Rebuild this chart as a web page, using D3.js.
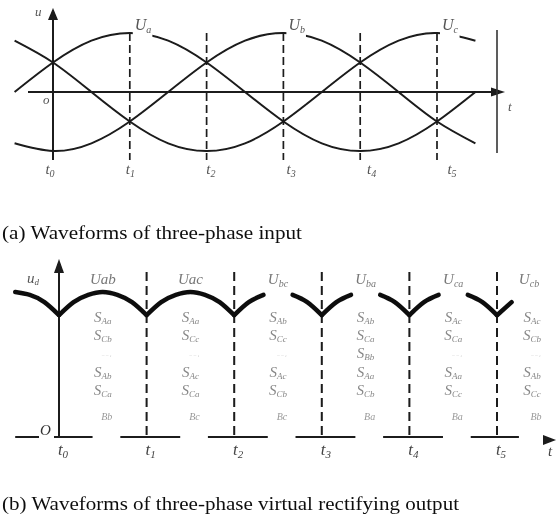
<!DOCTYPE html>
<html>
<head>
<meta charset="utf-8">
<script src="https://cdn.jsdelivr.net/npm/d3@7"></script>
<style>
  html, body { margin: 0; padding: 0; background: #fff; }
  svg { display: block; }
  text { font-family: "Liberation Serif", "Times New Roman", serif; }
</style>
</head>
<body>
<svg id="chart" width="558" height="518"></svg>
<script>
// ---------- (a) three-phase input, phase voltages (p.u.) every 30° of ωt ----------
const inputAngles = [-30, 0, 30, 60, 90, 120, 150, 180, 210, 240, 270, 300, 330];
const ua = [0, 0.5, 0.87, 1, 0.87, 0.5, 0, -0.5, -0.87, -1, -0.87, -0.5, 0];
const ub = [-0.87, -1, -0.87, -0.5, 0, 0.5, 0.87, 1, 0.87, 0.5, 0, -0.5, -0.87];
const uc = [0.87, 0.5, 0, -0.5, -0.87, -1, -0.87, -0.5, 0, 0.5, 0.87, 1, 0.87];
const phaseNames = ["a", "b", "c"];
const phasePeaks = [60, 180, 300];

// switching instants t0..t5 (ωt, degrees)
const tickAngles = [0, 60, 120, 180, 240, 300];
const tickNames = ["0", "1", "2", "3", "4", "5"];

// ---------- (b) virtual rectifying output envelope (p.u.) every 10°; null = not drawn ----------
const outputAngles = [-30, -20, -10, 0, 10, 20, 30, 40, 50, 60, 70, 80, 90, 100, 110, 120, 130, 140,
                      150, 160, 170, 180, 190, 200, 210, 220, 230, 240, 250, 260, 270, 280, 290, 300, 310];
const outputValues = [1.00, 0.98, 0.93, 0.84, 0.93, 0.98, 1.00, 0.98, 0.93, 0.84, 0.93, 0.98, 1.00, 0.98, 0.93, 0.84, 0.93, 0.98,
                      null, 0.98, 0.93, 0.84, 0.93, 0.98, null, 0.98, 0.93, 0.84, 0.93, 0.98, null, 0.98, 0.93, 0.84, 0.93];

// line-voltage segment names and their centre angles
const segmentPeaks = [30, 90, 150, 210, 270, 330];
const segmentNames = ["ab", "ac", "bc", "ba", "ca", "cb"];
const segmentSubscripted = [false, false, true, true, true, true];

// active switch pairs in every segment (row 2 only used in the fourth segment)
const switchCols = [
  ["Aa", "Cb", "",   "Ab", "Ca", "Bb"],
  ["Aa", "Cc", "",   "Ac", "Ca", "Bc"],
  ["Ab", "Cc", "",   "Ac", "Cb", "Bc"],
  ["Ab", "Ca", "Bb", "Aa", "Cb", "Ba"],
  ["Ac", "Ca", "",   "Aa", "Cc", "Ba"],
  ["Ac", "Cb", "",   "Ab", "Cc", "Bb"]
];

const captionA = "(a) Waveforms of three-phase input";
const captionB = "(b) Waveforms of three-phase virtual rectifying output";

const svg = d3.select("#chart");
const ink = "#1a1a1a";

// the whole figure is slightly soft
svg.append("defs").append("filter").attr("id", "soft")
  .append("feGaussianBlur").attr("stdDeviation", 0.35);
const root = svg.append("g").attr("filter", "url(#soft)");

function arrowHead(g, tip, dir, len, half) {
  const [x, y] = tip;
  let pts;
  if (dir === "up") pts = [[x, y], [x - half, y + len], [x + half, y + len]];
  else pts = [[x, y], [x - len, y - half], [x - len, y + half]];
  g.append("path").attr("d", d3.line()(pts) + "Z").attr("fill", ink);
}

function subLabel(g, x, y, main, sub, opt) {
  const t = g.append("text")
    .attr("x", x).attr("y", y)
    .attr("font-style", "italic")
    .attr("font-size", opt.size)
    .attr("fill", opt.fill)
    .attr("text-anchor", opt.anchor || "start");
  t.append("tspan").text(main);
  if (sub) {
    t.append("tspan").attr("font-size", opt.subSize).attr("dy", opt.subDy).text(sub);
  }
  return t;
}

// =================== panel (a) ===================
const ga = root.append("g");
const xa = d3.scaleLinear().domain([0, 300]).range([53, 437]);
const ya = d3.scaleLinear().domain([-1, 1]).range([151, 33]);
const xaLabel = d3.scaleLinear().domain([0, 300]).range([50, 452]);

// dashed switching lines
ga.selectAll("line.sw").data(tickAngles.slice(1)).join("line")
  .attr("x1", d => xa(d)).attr("x2", d => xa(d))
  .attr("y1", ya(1)).attr("y2", 160)
  .attr("stroke", ink).attr("stroke-width", 1.7).attr("stroke-dasharray", "8,4");

// axes
ga.append("line").attr("x1", xa(0)).attr("x2", xa(0)).attr("y1", 18).attr("y2", 160)
  .attr("stroke", ink).attr("stroke-width", 2);
arrowHead(ga, [xa(0), 8], "up", 12, 5);
ga.append("line").attr("x1", 28).attr("x2", 494).attr("y1", ya(0)).attr("y2", ya(0))
  .attr("stroke", ink).attr("stroke-width", 2);
arrowHead(ga, [505, ya(0)], "right", 14, 4.5);
ga.append("line").attr("x1", 497).attr("x2", 497).attr("y1", 30).attr("y2", 153)
  .attr("stroke", "#333").attr("stroke-width", 1.6);

// phase voltage curves
const lineA = d3.line().x(d => xa(d[0])).y(d => ya(d[1])).curve(d3.curveNatural);
[ua, ub, uc].forEach(vals => {
  ga.append("path")
    .attr("d", lineA(inputAngles.map((a, i) => [a, vals[i]])))
    .attr("fill", "none").attr("stroke", ink).attr("stroke-width", 2);
});

// phase labels on a white backing at each peak
phaseNames.forEach((n, i) => {
  const lg = ga.append("g");
  const bg = lg.append("rect").attr("fill", "#fff");
  const t = subLabel(lg, xa(phasePeaks[i]) + 5, 30, "U", n,
    { size: 16, subSize: 10, subDy: 3, fill: "#555" });
  const b = t.node().getBBox();
  bg.attr("x", b.x - 2).attr("y", b.y).attr("width", b.width + 3).attr("height", b.height + 8);
});

subLabel(ga, 35, 16, "u", null, { size: 13, fill: "#555" });
subLabel(ga, 43, 104, "o", null, { size: 13, fill: "#555" });
subLabel(ga, 508, 111, "t", null, { size: 13, fill: "#555" });
tickAngles.forEach((a, i) => {
  subLabel(ga, xaLabel(a), 174, "t", tickNames[i],
    { size: 15, subSize: 10, subDy: 3, fill: "#555", anchor: "middle" });
});

ga.append("text").attr("x", 2).attr("y", 239)
  .attr("font-size", 18).attr("fill", "#111")
  .attr("textLength", 300).attr("lengthAdjust", "spacingAndGlyphs")
  .text(captionA);

// =================== panel (b) ===================
const gb = root.append("g");
const xb = d3.scaleLinear().domain([0, 300]).range([59, 497]);
const yb = d3.scaleLinear().domain([0, 1]).range([437, 292]);
const baseY = yb(0);

// baseline pieces around every switching instant
tickAngles.forEach((a, i) => {
  const from = i === 0 ? -30 : a - 18;
  const to = Math.min(a + 23, 315);
  gb.append("line").attr("x1", xb(from)).attr("x2", xb(to))
    .attr("y1", baseY).attr("y2", baseY)
    .attr("stroke", ink).attr("stroke-width", 2);
});

// dashed switching lines
gb.selectAll("line.sw").data(tickAngles.slice(1)).join("line")
  .attr("x1", d => xb(d)).attr("x2", d => xb(d))
  .attr("y1", 272).attr("y2", baseY)
  .attr("stroke", ink).attr("stroke-width", 2).attr("stroke-dasharray", "9,5");

// vertical axis
gb.append("line").attr("x1", xb(0)).attr("x2", xb(0)).attr("y1", 270).attr("y2", baseY)
  .attr("stroke", ink).attr("stroke-width", 2);
arrowHead(gb, [xb(0), 259], "up", 14, 5);
arrowHead(gb, [556, 440], "right", 13, 5);

// envelope split into arcs between cusps
const pts = outputAngles.map((a, i) => ({ a, v: outputValues[i] }));
const arcs = [];
let cur = [];
pts.forEach(p => {
  if (p.v === null) { if (cur.length > 1) arcs.push(cur); cur = []; return; }
  cur.push(p);
  if (p.a % 60 === 0 && cur.length > 1) { arcs.push(cur); cur = [p]; }
});
if (cur.length > 1) arcs.push(cur);

const lineB = d3.line().x(d => xb(d.a)).y(d => yb(d.v)).curve(d3.curveNatural);
gb.selectAll("path.env").data(arcs).join("path")
  .attr("d", lineB)
  .attr("fill", "none").attr("stroke", "#111").attr("stroke-width", 4.5)
  .attr("stroke-linecap", "round").attr("stroke-linejoin", "round");

// segment names
segmentNames.forEach((n, i) => {
  const x = Math.min(xb(segmentPeaks[i]), 529);
  if (segmentSubscripted[i]) {
    subLabel(gb, x, 284, "U", n, { size: 15, subSize: 10, subDy: 3, fill: "#777", anchor: "middle" });
  } else {
    subLabel(gb, x, 284, "U" + n, null, { size: 15, fill: "#777", anchor: "middle" });
  }
});

// switch pairs per segment
const rowY = [322, 340, 358, 377, 395];
switchCols.forEach((col, i) => {
  const x = Math.min(xb(segmentPeaks[i]), 532);
  col.forEach((s, r) => {
    if (r < 5) {
      if (s) subLabel(gb, x, rowY[r], "S", s, { size: 15, subSize: 9, subDy: 2, fill: "#888", anchor: "middle" });
      else gb.append("text").attr("x", x + 4).attr("y", rowY[r] + 2)
             .attr("font-size", 7).attr("fill", "#c4c4c4").attr("text-anchor", "middle").text("‾ ‾ ʹ");
    } else {
      gb.append("text").attr("x", x + 4).attr("y", 420)
        .attr("font-size", 10).attr("font-style", "italic").attr("fill", "#999")
        .attr("text-anchor", "middle").text(s);
    }
  });
});

// axis letters
subLabel(gb, 27, 283, "u", "d", { size: 15, subSize: 9, subDy: 2, fill: "#555" });
const oBox = gb.append("rect").attr("fill", "#fff");
const oT = subLabel(gb, 40, 435, "O", null, { size: 15, fill: "#333" });
const ob = oT.node().getBBox();
oBox.attr("x", ob.x - 1).attr("y", ob.y).attr("width", ob.width + 4).attr("height", ob.height + 4);
tickAngles.forEach((a, i) => {
  subLabel(gb, xb(a) + 4, 455, "t", tickNames[i],
    { size: 17, subSize: 11, subDy: 3, fill: "#444", anchor: "middle" });
});
subLabel(gb, 548, 456, "t", null, { size: 15, fill: "#444" });

gb.append("text").attr("x", 2).attr("y", 510)
  .attr("font-size", 18).attr("fill", "#111")
  .attr("textLength", 457).attr("lengthAdjust", "spacingAndGlyphs")
  .text(captionB);
</script>
</body>
</html>
